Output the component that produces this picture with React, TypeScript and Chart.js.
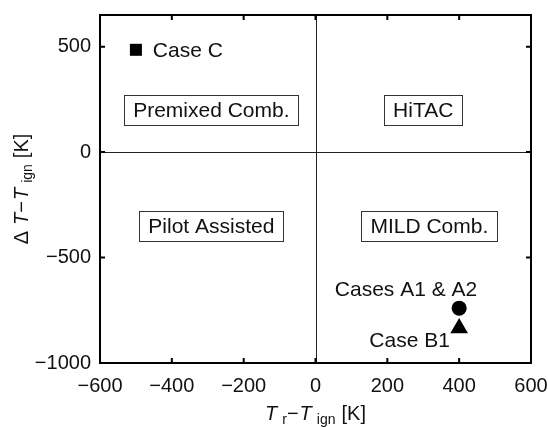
import { useEffect, useRef } from "react";
import { Chart, registerables } from "chart.js";

Chart.register(...registerables);

// Operating points
const caseNames = ["Case C", "Cases A1 & A2", "Case B1"];
const caseX = [-500, 400, 400];
const caseY = [485, -740, -835];
const caseMarkers = ["rect", "circle", "triangle"];
const caseLabelX = [-453, 252, 262];
const caseLabelY = [485, -649, -891];
const caseLabelAlign = ["left", "center", "center"];

// Combustion regime regions
const regionNames = ["Premixed Comb.", "HiTAC", "Pilot Assisted", "MILD Comb."];
const regionX = [-290, 300, -290, 317];
const regionY = [200, 200, -350, -350];

// Axes
const xTicks = [-600, -400, -200, 0, 200, 400, 600];
const yTicks = [-1000, -500, 0, 500];
const xRange = [-600, 600];
const yRange = [-1000, 650];

const FONT = "'Liberation Sans', Arial, Helvetica, sans-serif";
const INK = "#111111";

const fmt = (v: number) => (v < 0 ? "\u2212" + Math.abs(v) : String(v));

type Seg = { text: string; italic?: boolean; sub?: boolean; gap?: number };

const xTitle: Seg[] = [
  { text: "T", italic: true },
  { text: "r", sub: true, gap: 5 },
  { text: "\u2212" },
  { text: "T", italic: true, gap: 1 },
  { text: "ign", sub: true, gap: 5 },
  { text: "[K]", gap: 6 },
];

const yTitle: Seg[] = [
  { text: "\u0394" },
  { text: "T", italic: true, gap: 6 },
  { text: "\u2212" },
  { text: "T", italic: true, gap: 1 },
  { text: "ign", sub: true, gap: 5 },
  { text: "[K]", gap: 6 },
];

function segFont(s: Seg) {
  const size = s.sub ? 14 : 20;
  return `${s.italic ? "italic " : ""}${size}px ${FONT}`;
}

function drawSegs(ctx: CanvasRenderingContext2D, segs: Seg[], cx: number, baseline: number) {
  let total = 0;
  for (const s of segs) {
    ctx.font = segFont(s);
    total += (s.gap || 0) + ctx.measureText(s.text).width;
  }
  let x = cx - total / 2;
  ctx.textAlign = "left";
  ctx.textBaseline = "alphabetic";
  for (const s of segs) {
    ctx.font = segFont(s);
    x += s.gap || 0;
    ctx.fillText(s.text, x, baseline + (s.sub ? 4 : 0));
    x += ctx.measureText(s.text).width;
  }
}

const regimePlugin = {
  id: "regimeMap",
  beforeDatasetsDraw(chart: any) {
    const { ctx, chartArea: a, scales } = chart;
    const xs = scales.x;
    const ys = scales.y;
    ctx.save();
    // quadrant dividers
    ctx.strokeStyle = "#222";
    ctx.lineWidth = 1;
    ctx.beginPath();
    const x0 = Math.round(xs.getPixelForValue(0)) + 0.5;
    const y0 = Math.round(ys.getPixelForValue(0)) + 0.5;
    ctx.moveTo(x0, a.top);
    ctx.lineTo(x0, a.bottom);
    ctx.moveTo(a.left, y0);
    ctx.lineTo(a.right, y0);
    ctx.stroke();

    // regime labels in boxes
    ctx.font = `21px ${FONT}`;
    ctx.textAlign = "center";
    ctx.textBaseline = "middle";
    regionNames.forEach((name, i) => {
      const px = xs.getPixelForValue(regionX[i]);
      const py = ys.getPixelForValue(regionY[i]);
      const w = ctx.measureText(name).width + 18;
      const h = 30;
      ctx.fillStyle = "#fff";
      ctx.fillRect(px - w / 2, py - h / 2, w, h);
      ctx.strokeStyle = "#333";
      ctx.lineWidth = 1;
      ctx.strokeRect(Math.round(px - w / 2) + 0.5, Math.round(py - h / 2) + 0.5, Math.round(w), h);
      ctx.fillStyle = INK;
      ctx.fillText(name, px, py + 1);
    });
    ctx.restore();
  },
  afterDatasetsDraw(chart: any) {
    const { ctx, chartArea: a, scales } = chart;
    const xs = scales.x;
    const ys = scales.y;
    ctx.save();

    // case labels
    ctx.font = `21px ${FONT}`;
    ctx.textBaseline = "middle";
    ctx.fillStyle = INK;
    caseNames.forEach((name, i) => {
      ctx.textAlign = caseLabelAlign[i] as CanvasTextAlign;
      ctx.fillText(name, xs.getPixelForValue(caseLabelX[i]), ys.getPixelForValue(caseLabelY[i]) + 1);
    });

    // axes box
    ctx.strokeStyle = "#000";
    ctx.lineWidth = 2;
    ctx.strokeRect(a.left, a.top, a.right - a.left, a.bottom - a.top);

    // inward tick marks on all four sides
    const tl = 5;
    ctx.lineWidth = 2;
    ctx.beginPath();
    xTicks.forEach((v) => {
      const px = xs.getPixelForValue(v);
      ctx.moveTo(px, a.bottom);
      ctx.lineTo(px, a.bottom - tl);
      ctx.moveTo(px, a.top);
      ctx.lineTo(px, a.top + tl);
    });
    yTicks.forEach((v) => {
      const py = ys.getPixelForValue(v);
      ctx.moveTo(a.left, py);
      ctx.lineTo(a.left + tl, py);
      ctx.moveTo(a.right, py);
      ctx.lineTo(a.right - tl, py);
    });
    ctx.stroke();

    // axis titles
    ctx.fillStyle = INK;
    drawSegs(ctx, xTitle, (a.left + a.right) / 2, 420);
    ctx.translate(28, (a.top + a.bottom) / 2);
    ctx.rotate(-Math.PI / 2);
    drawSegs(ctx, yTitle, 0, 0);
    ctx.restore();
  },
};

const noEdgePadding = (s: any) => {
  s.paddingTop = 0;
  s.paddingBottom = 0;
  s.paddingLeft = 0;
  s.paddingRight = 0;
};

export default function App() {
  const ref = useRef<HTMLCanvasElement | null>(null);

  useEffect(() => {
    document.body.style.margin = "0";
    const canvas = ref.current;
    if (!canvas) return;
    const chart = new Chart(canvas, {
      type: "scatter",
      data: {
        datasets: caseNames.map((name, i) => ({
          label: name,
          data: [{ x: caseX[i], y: caseY[i] }],
          pointStyle: caseMarkers[i] as any,
          pointRadius: [8.5, 7.5, 10.2][i],
          pointHoverRadius: [8.5, 7.5, 10.2][i],
          backgroundColor: "#000",
          borderColor: "#000",
          borderWidth: 0,
        })),
      },
      options: {
        responsive: false,
        animation: false,
        events: [],
        layout: { padding: { left: 0, top: 15, right: 17, bottom: 0 } },
        plugins: {
          legend: { display: false },
          tooltip: { enabled: false },
          title: { display: false },
        },
        scales: {
          x: {
            type: "linear",
            min: xRange[0],
            max: xRange[1],
            grid: { display: false, drawTicks: false },
            border: { display: false },
            afterBuildTicks: (s: any) => {
              s.ticks = xTicks.map((v) => ({ value: v }));
            },
            afterFit: (s: any) => {
              s.height = 64;
              noEdgePadding(s);
            },
            ticks: {
              autoSkip: false,
              maxRotation: 0,
              padding: 11,
              color: INK,
              font: { family: FONT, size: 20 },
              callback: (v: any) => fmt(Number(v)),
            },
          },
          y: {
            type: "linear",
            min: yRange[0],
            max: yRange[1],
            grid: { display: false, drawTicks: false },
            border: { display: false },
            afterBuildTicks: (s: any) => {
              s.ticks = yTicks.map((v) => ({ value: v }));
            },
            afterFit: (s: any) => {
              s.width = 100;
              noEdgePadding(s);
            },
            ticks: {
              autoSkip: false,
              padding: 9,
              color: INK,
              font: { family: FONT, size: 20 },
              callback: (v: any) => fmt(Number(v)),
            },
          },
        },
      },
      plugins: [regimePlugin],
    });
    return () => chart.destroy();
  }, []);

  return (
    <div style={{ width: 548, height: 427, background: "#fff" }}>
      <canvas ref={ref} width={548} height={427} style={{ display: "block" }} />
    </div>
  );
}
